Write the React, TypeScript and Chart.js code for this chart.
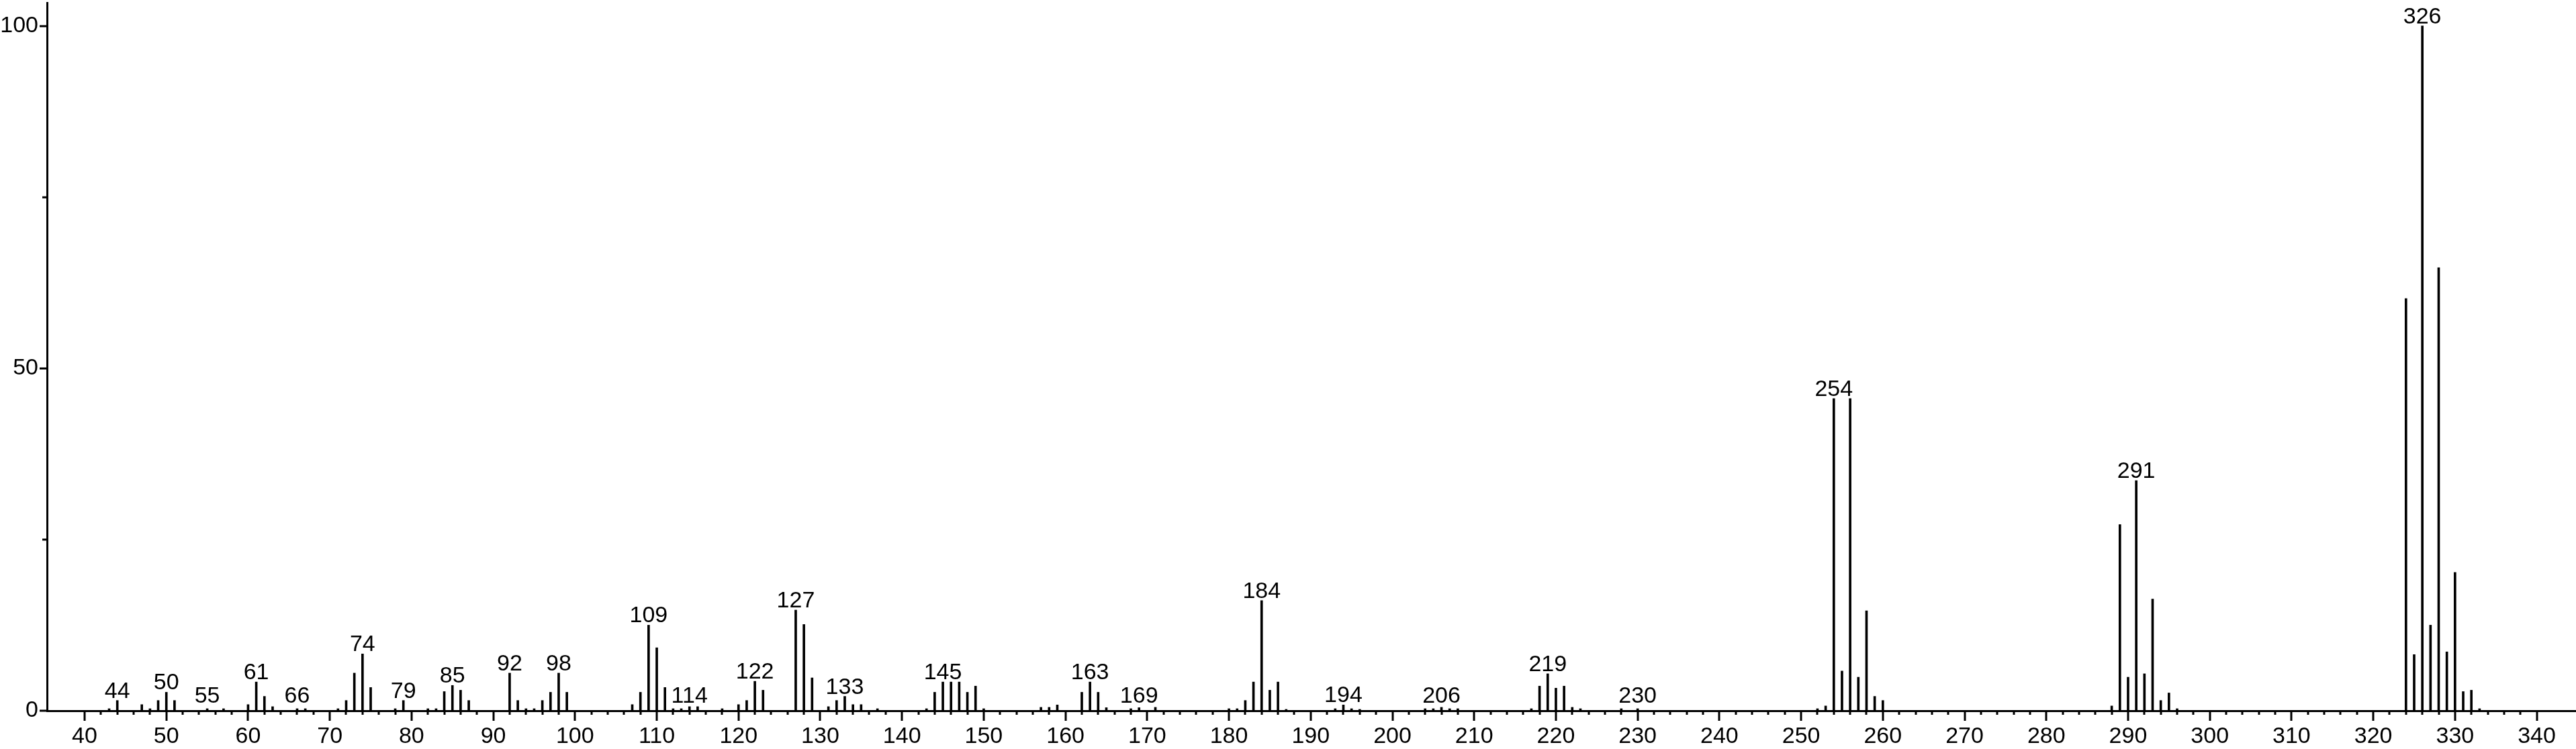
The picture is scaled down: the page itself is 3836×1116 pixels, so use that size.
import React, { useEffect, useRef } from "react";
import { Chart, registerables } from "chart.js";

Chart.register(...registerables);

// m/z values of the peaks
const mzValues = [
  43, 44, 47, 48, 49, 50, 51, 55, 57, 60, 61, 62, 63, 66, 67, 71, 72, 73, 74, 75,
  78, 79, 82, 83, 84, 85, 86, 87, 92, 93, 94, 95, 96, 97, 98, 99,
  107, 108, 109, 110, 111, 112, 113, 114, 115, 118, 120, 121, 122, 123,
  127, 128, 129, 131, 132, 133, 134, 135, 137, 143, 144, 145, 146, 147, 148, 149, 150,
  157, 158, 159, 162, 163, 164, 165, 168, 169, 171,
  180, 181, 182, 183, 184, 185, 186, 187, 193, 194, 195, 196,
  204, 205, 206, 207, 208, 217, 218, 219, 220, 221, 222, 223, 228, 230,
  252, 253, 254, 255, 256, 257, 258, 259, 260,
  288, 289, 290, 291, 292, 293, 294, 295, 296,
  324, 325, 326, 327, 328, 329, 330, 331, 332, 333,
];

// relative intensities (%)
const intensities = [
  0.3, 1.5, 0.9, 0.3, 1.5, 2.7, 1.5, 0.3, 0.3, 0.9, 4.2, 2.1, 0.6, 0.3, 0.3, 0.3, 1.5, 5.5, 8.3, 3.4,
  0.3, 1.5, 0.3, 0.3, 2.8, 3.7, 3.0, 1.5, 5.5, 1.5, 0.3, 0.3, 1.5, 2.7, 5.5, 2.7,
  0.9, 2.7, 12.5, 9.2, 3.4, 0.3, 0.3, 0.6, 0.6, 0.3, 0.9, 1.5, 4.3, 3.0,
  14.7, 12.6, 4.8, 0.6, 1.5, 2.1, 0.9, 0.9, 0.3, 0.3, 2.7, 4.2, 4.2, 4.2, 2.7, 3.6, 0.3,
  0.5, 0.5, 0.85, 2.7, 4.2, 2.7, 0.45, 0.3, 0.45, 0.5,
  0.3, 0.3, 1.5, 4.2, 16.1, 3.0, 4.2, 0.2, 0.3, 0.85, 0.3, 0.2,
  0.3, 0.3, 0.5, 0.3, 0.3, 0.3, 3.6, 5.4, 3.3, 3.6, 0.5, 0.3, 0.3, 0.3,
  0.3, 0.7, 45.6, 5.8, 45.6, 4.9, 14.6, 2.1, 1.5,
  0.7, 27.2, 4.9, 33.6, 5.4, 16.3, 1.5, 2.6, 0.3,
  60.2, 8.2, 100, 12.5, 64.7, 8.6, 20.2, 2.8, 3.0, 0.3,
];

// peaks annotated with their m/z
const labeledPeaks = [
  44, 50, 55, 61, 66, 74, 79, 85, 92, 98, 109, 114, 122, 127, 133, 145, 163, 169,
  184, 194, 206, 219, 230, 254, 291, 326,
];

const xTickLabels = [40, 50, 60, 70, 80, 90, 100, 110, 120, 130, 140, 150, 160, 170, 180, 190, 200,
  210, 220, 230, 240, 250, 260, 270, 280, 290, 300, 310, 320, 330, 340];
const xMinorStep = 2;
const yTickLabels = [0, 50, 100];
const yMinorTicks = [25, 75];

const FONT = "'Liberation Sans', Arial, Helvetica, sans-serif";

export default function App() {
  const ref = useRef<HTMLCanvasElement | null>(null);

  useEffect(() => {
    document.body.style.margin = "0";
    const canvas = ref.current;
    if (!canvas) return;

    const msPlugin = {
      id: "msDecor",
      afterDraw(chart: any) {
        const c = chart.ctx as CanvasRenderingContext2D;
        const xs = chart.scales.x;
        const ys = chart.scales.y;
        const base = ys.getPixelForValue(0);
        const left = chart.chartArea.left;
        c.save();
        c.strokeStyle = "#000";
        c.lineWidth = 3;
        c.beginPath();
        const first = xTickLabels[0];
        const last = xTickLabels[xTickLabels.length - 1];
        for (let v = first; v <= last; v += xMinorStep) {
          const px = Math.round(xs.getPixelForValue(v));
          const len = xTickLabels.includes(v) ? 15 : 6;
          c.moveTo(px, base);
          c.lineTo(px, base + len);
        }
        yTickLabels.forEach((v) => {
          const py = Math.round(ys.getPixelForValue(v));
          c.moveTo(left, py);
          c.lineTo(left - 11, py);
        });
        yMinorTicks.forEach((v) => {
          const py = Math.round(ys.getPixelForValue(v));
          c.moveTo(left, py);
          c.lineTo(left - 7, py);
        });
        c.stroke();

        c.fillStyle = "#000";
        c.font = `34px ${FONT}`;
        c.textAlign = "center";
        c.textBaseline = "alphabetic";
        labeledPeaks.forEach((m) => {
          const i = mzValues.indexOf(m);
          if (i < 0) return;
          const px = xs.getPixelForValue(m);
          const top = ys.getPixelForValue(intensities[i]);
          const y = Math.min(top - 4, base - 12);
          c.fillText(String(m), px, y);
        });
        c.restore();
      },
    };

    const chart = new Chart(canvas, {
      type: "bar",
      data: {
        datasets: [
          {
            data: mzValues.map((m, i) => ({ x: m, y: intensities[i] })),
            backgroundColor: "#000",
            borderWidth: 0,
            barThickness: 3,
          } as any,
        ],
      },
      options: {
        animation: false,
        responsive: false,
        maintainAspectRatio: false,
        devicePixelRatio: 1,
        layout: { padding: { top: 4, left: 0, right: 0, bottom: 0 } },
        plugins: {
          legend: { display: false },
          tooltip: { enabled: false },
          title: { display: false },
        },
        scales: {
          x: {
            type: "linear",
            min: 35.4,
            max: 344.8,
            offset: false,
            afterFit: (s: any) => {
              s.height = 57;
              s.paddingLeft = 0;
              s.paddingRight = 0;
            },
            border: { display: true, color: "#000", width: 3 },
            grid: { display: true, drawOnChartArea: false, drawTicks: false, tickLength: 0 },
            ticks: {
              stepSize: 10,
              includeBounds: false,
              autoSkip: false,
              maxRotation: 0,
              minRotation: 0,
              padding: 18,
              color: "#000",
              font: { family: FONT, size: 34 },
              callback: (v: any) => (xTickLabels.includes(Number(v)) ? String(v) : ""),
            },
          },
          y: {
            type: "linear",
            min: 0,
            max: 103.4,
            afterFit: (s: any) => {
              s.width = 70;
              s.paddingTop = 0;
              s.paddingBottom = 0;
            },
            border: { display: true, color: "#000", width: 3 },
            grid: { display: true, drawOnChartArea: false, drawTicks: false, tickLength: 0 },
            ticks: {
              stepSize: 25,
              includeBounds: false,
              autoSkip: false,
              padding: 13,
              color: "#000",
              font: { family: FONT, size: 34 },
              callback: (v: any) => (yTickLabels.includes(Number(v)) ? String(v) : ""),
            },
          },
        },
      } as any,
      plugins: [msPlugin],
    });

    return () => {
      chart.destroy();
    };
  }, []);

  return (
    <div style={{ position: "fixed", left: 0, top: 0, width: 3836, height: 1116, background: "#fff" }}>
      <canvas ref={ref} width={3836} height={1116} style={{ display: "block", width: 3836, height: 1116 }} />
    </div>
  );
}
